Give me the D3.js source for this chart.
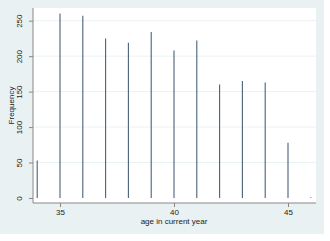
<!DOCTYPE html>
<html>
<head>
<meta charset="utf-8">
<script src="https://cdn.jsdelivr.net/npm/d3@7"></script>
<style>
  body { margin: 0; background: #fff; }
  text { font-family: "Liberation Sans", Arial, sans-serif; fill: #222; }
</style>
</head>
<body>
<div id="chart"></div>
<script>
// age in current year -> frequency
const ages = [34, 35, 36, 37, 38, 39, 40, 41, 42, 43, 44, 45, 46];
const freqs = [53, 260, 257, 225, 219, 234, 208, 222, 160, 165, 163, 78, 1];
const xTicks = [35, 40, 45];
const yTicks = [0, 50, 100, 150, 200, 250];

const svg = d3.select('#chart')
  .append('svg')
  .attr('width', 330)
  .attr('height', 241);

// outer graph region
svg.append('rect')
  .attr('x', 0).attr('y', 0)
  .attr('width', 324).attr('height', 234)
  .attr('fill', '#e9f1f2');

// plot region
svg.append('rect')
  .attr('x', 33).attr('y', 8)
  .attr('width', 283).attr('height', 195)
  .attr('fill', '#fff');

const x = d3.scaleLinear().domain([34, 46]).range([37.2, 310.8]);
const y = d3.scaleLinear().domain([0, 250]).range([198, 20.7]);

// gridlines
svg.append('g')
  .selectAll('line')
  .data(yTicks.slice(1))
  .enter()
  .append('line')
  .attr('x1', 33).attr('x2', 316)
  .attr('y1', d => y(d)).attr('y2', d => y(d))
  .attr('stroke', '#eaf2f3')
  .attr('stroke-width', 1);

// spikes
svg.append('g')
  .selectAll('line')
  .data(ages)
  .enter()
  .append('line')
  .attr('x1', d => x(d)).attr('x2', d => x(d))
  .attr('y1', y(0))
  .attr('y2', (d, i) => y(freqs[i]))
  .attr('stroke', '#4a6079')
  .attr('stroke-width', 1.1);

// axes
const yAxis = svg.append('g')
  .attr('transform', 'translate(33,0)')
  .call(d3.axisLeft(y).tickValues(yTicks).tickSize(4).tickPadding(3));
yAxis.select('.domain').attr('d', 'M0,8V203').attr('stroke', '#888');
yAxis.selectAll('.tick line').attr('stroke', '#888');
yAxis.selectAll('.tick text')
  .attr('transform', 'rotate(-90)')
  .attr('x', 0).attr('y', -11)
  .attr('text-anchor', 'middle')
  .attr('dy', 0)
  .style('font-size', '8px');

const xAxis = svg.append('g')
  .attr('transform', 'translate(0,203)')
  .call(d3.axisBottom(x).tickValues(xTicks).tickSize(4).tickPadding(2));
xAxis.select('.domain').attr('d', 'M33,0H316').attr('stroke', '#888');
xAxis.selectAll('.tick line').attr('stroke', '#888');
xAxis.selectAll('.tick text').style('font-size', '8px');

// titles
svg.append('text')
  .attr('x', 174).attr('y', 224)
  .attr('text-anchor', 'middle')
  .style('font-size', '8px')
  .text('age in current year');

svg.append('text')
  .attr('transform', 'translate(14,105.5) rotate(-90)')
  .attr('text-anchor', 'middle')
  .style('font-size', '8px')
  .text('Frequency');
</script>
</body>
</html>
